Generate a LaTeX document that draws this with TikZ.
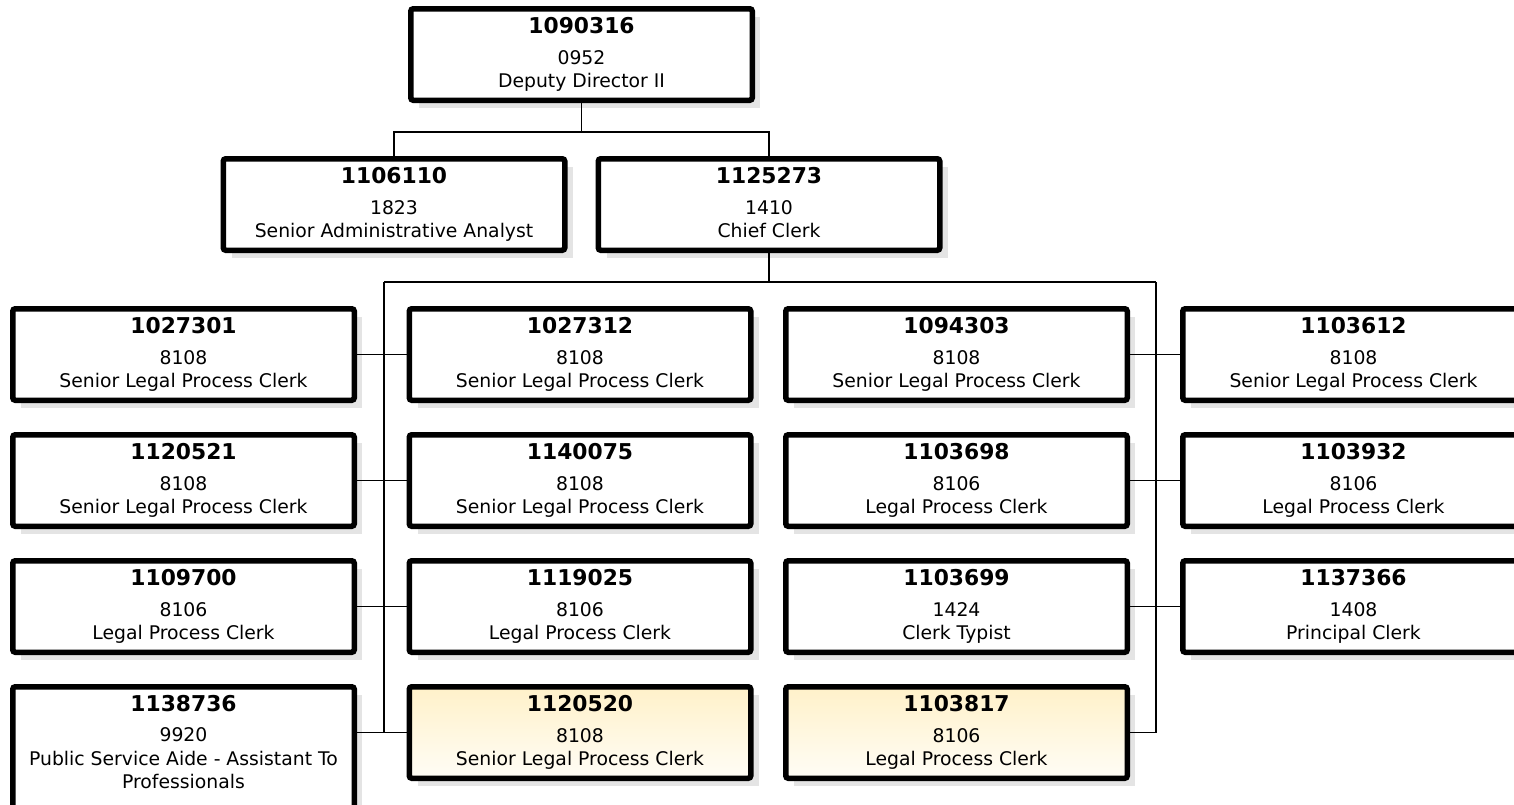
\documentclass[tikz,border=0pt]{standalone}
\usepackage{fontspec}
\setmainfont{DejaVu Sans}
\definecolor{shadowc}{HTML}{E4E4E4}
\definecolor{hltop}{HTML}{FFF1C9}
\definecolor{hlbot}{HTML}{FFFDF6}
\tikzset{
  orgbox/.style={draw=black, line width=5.5pt, rounded corners=2.5pt, fill=white,
    minimum width=341.5pt, minimum height=91.5pt, inner sep=0pt, outer sep=2.75pt,
    align=center, font=\fontsize{18.8}{23.5}\selectfont},
  hlbox/.style={orgbox, top color=hltop, bottom color=hlbot},
  shadowbox/.style={fill=shadowc, minimum width=341pt, minimum height=91pt,
    inner sep=0pt, outer sep=0pt},
  link/.style={draw=black, line width=1.7pt},
}
\newcommand{\idline}[1]{{\fontsize{21.8}{23.5}\selectfont\bfseries #1}\\[7pt]}
\newcommand{\orgunit}[7]{%
  \node[shadowbox] (#2s) at ([shift={(8pt,-8pt)}]#3,#4) {};
  \node[#1] (#2) at (#3,#4) {\idline{#5}#6\\#7\vphantom{gy}};
}
\begin{document}
\begin{tikzpicture}[x=1pt,y=-1pt]
\useasboundingbox (0,0) rectangle (1514,804);
\clip (0,0) rectangle (1514,804);

% top levels
\orgunit{orgbox}{top}{581.5}{54.5}{1090316}{0952}{Deputy Director II}
\orgunit{orgbox}{saa}{394}{204.5}{1106110}{1823}{Senior Administrative Analyst}
\orgunit{orgbox}{chief}{769}{204.5}{1125273}{1410}{Chief Clerk}

% row 1
\orgunit{orgbox}{a1}{183.5}{354.5}{1027301}{8108}{Senior Legal Process Clerk}
\orgunit{orgbox}{b1}{580}{354.5}{1027312}{8108}{Senior Legal Process Clerk}
\orgunit{orgbox}{c1}{956.5}{354.5}{1094303}{8108}{Senior Legal Process Clerk}
\orgunit{orgbox}{d1}{1353.5}{354.5}{1103612}{8108}{Senior Legal Process Clerk}
% row 2
\orgunit{orgbox}{a2}{183.5}{480.5}{1120521}{8108}{Senior Legal Process Clerk}
\orgunit{orgbox}{b2}{580}{480.5}{1140075}{8108}{Senior Legal Process Clerk}
\orgunit{orgbox}{c2}{956.5}{480.5}{1103698}{8106}{Legal Process Clerk}
\orgunit{orgbox}{d2}{1353.5}{480.5}{1103932}{8106}{Legal Process Clerk}
% row 3
\orgunit{orgbox}{a3}{183.5}{606.5}{1109700}{8106}{Legal Process Clerk}
\orgunit{orgbox}{b3}{580}{606.5}{1119025}{8106}{Legal Process Clerk}
\orgunit{orgbox}{c3}{956.5}{606.5}{1103699}{1424}{Clerk Typist}
\orgunit{orgbox}{d3}{1353.5}{606.5}{1137366}{1408}{Principal Clerk}
% row 4
\node[shadowbox, minimum height=122pt] (a4s) at ([shift={(8pt,-8pt)}]183.5,748) {};
\node[orgbox, minimum height=122.5pt] (a4) at (183.5,748)
  {\idline{1138736}9920\\Public Service Aide - Assistant To\\Professionals\vphantom{gy}\rule[-12.7pt]{0pt}{1pt}};
\orgunit{hlbox}{b4}{580}{732.5}{1120520}{8108}{Senior Legal Process Clerk}
\orgunit{hlbox}{c4}{956.5}{732.5}{1103817}{8106}{Legal Process Clerk}

% connectors
\coordinate (j1) at (581.5,132);
\coordinate (j2) at (769,282);
\coordinate (busL) at (384,282);
\coordinate (busR) at (1156,282);
\draw[link] (top.south) -- (j1);
\draw[link] (saa.north) -- (saa.north |- j1) -- (chief.north |- j1) -- (chief.north);
\draw[link] (chief.south) -- (j2);
\draw[link] (busL) -- (busR);
\draw[link] (busL) -- (busL |- b4.west);
\draw[link] (busR) -- (busR |- c4.east);
\draw[link] (a1.east) -- (b1.west);
\draw[link] (a2.east) -- (b2.west);
\draw[link] (a3.east) -- (b3.west);
\draw[link] (a4.east |- b4.west) -- (b4.west);
\draw[link] (c1.east) -- (d1.west);
\draw[link] (c2.east) -- (d2.west);
\draw[link] (c3.east) -- (d3.west);
\draw[link] (c4.east) -- (c4.east -| busR);
\end{tikzpicture}
\end{document}
